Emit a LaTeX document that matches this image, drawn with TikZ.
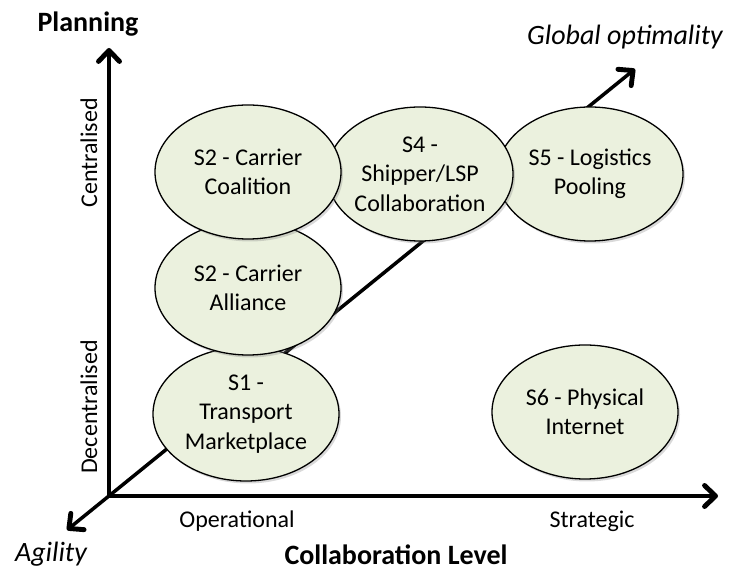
\documentclass[tikz,border=0pt]{standalone}
\usepackage{fontspec}
\setmainfont{Carlito}
\usetikzlibrary{arrows.meta,shapes.geometric,shadows}
\definecolor{ellfill}{RGB}{235,241,222}
\begin{document}
\begin{tikzpicture}[x=1pt,y=1pt,
  >={Straight Barb[length=11pt,width=21pt,line width=0pt 1.4,round]},
  bubble/.style={ellipse, draw=black, line width=1.3pt, fill=ellfill,
    minimum width=186pt, minimum height=134pt, inner sep=-15pt, align=center,
    font=\fontsize{24}{29.5}\selectfont,
    drop shadow={shadow xshift=2pt, shadow yshift=-2.5pt, opacity=.3}},
  axisline/.style={line width=3.5pt, line join=miter, <->},
  lab/.style={font=\fontsize{24}{29}\selectfont, anchor=base},
  ttl/.style={font=\bfseries\fontsize{28}{34}\selectfont, anchor=base},
  itl/.style={font=\itshape\fontsize{28}{34}\selectfont, anchor=base}]
\useasboundingbox (0,0) rectangle (730,577);
% axes
\coordinate (O) at (109,81);
\coordinate (ytip) at (109,529);
\coordinate (xtip) at (718,81);
\coordinate (atip) at (67,47);
\coordinate (gtip) at (635,508);
\draw[axisline] (ytip) -- (O) -- (xtip);
\draw[axisline] (atip) -- (gtip);
% ellipses
\node[bubble] (s5) at (590,403) {S5 - Logistics\\Pooling};
\node[bubble] (s4) at (420,403) {S4 -\\Shipper/LSP\\Collaboration};
\node[bubble] (s1) at (246,163) {S1 -\\Transport\\Marketplace};
\node[bubble] (s2a) at (248,289) {S2 - Carrier\\Alliance};
\node[bubble] (s2c) at (248,405) {S2 - Carrier\\Coalition};
\node[bubble] (s6) at (585,165) {S6 - Physical\\Internet};
% labels
\node[ttl] (plan) at (88,545) {Planning};
\node[itl] (glob) at (625,532) {Global optimality};
\node[itl] (agil) at (51,15) {Agility};
\node[ttl] (coll) at (396,12) {Collaboration Level};
\node[lab] (oper) at (237,49) {Operational};
\node[lab] (strat) at (592,49) {Strategic};
\node[lab, rotate=90] (cent) at (97,424) {Centralised};
\node[lab, rotate=90] (decent) at (97,170) {Decentralised};
\end{tikzpicture}
\end{document}
